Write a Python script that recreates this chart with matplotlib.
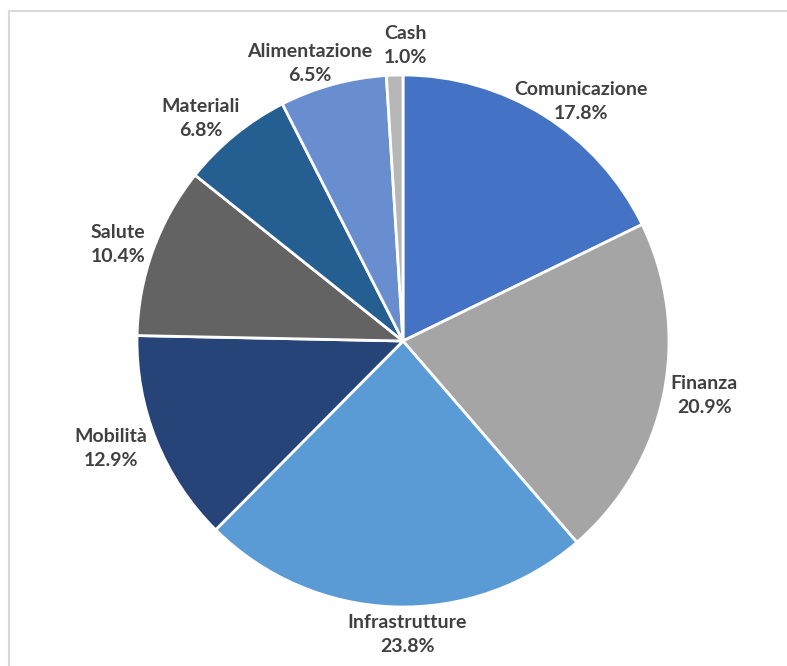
import numpy as np
import matplotlib
matplotlib.use('Agg')
import matplotlib.pyplot as plt
from matplotlib.lines import Line2D

# sector weights (percent)
sectors = ["Comunicazione", "Finanza", "Infrastrutture", "Mobilità",
           "Salute", "Materiali", "Alimentazione", "Cash"]
weights = [17.8, 20.9, 23.8, 12.9, 10.4, 6.8, 6.5, 1.0]
colors = ["#4472C4", "#A5A5A5", "#5B9BD5", "#264478",
          "#636363", "#255E91", "#698ED0", "#B7B7B7"]
# label placement: distance in pie radii and angular nudge (deg) from wedge middle
label_dist = [1.12, 1.15, 1.105, 1.17, 1.13, 1.13, 1.10, 1.11]
label_nudge = [-4.6, 1.4, 2.8, -1.8, 1.2, 3.1, 3.3, -2.2]

plt.rcParams['font.family'] = ['Lato', 'DejaVu Sans']

fig = plt.figure(figsize=(7.87, 6.66), dpi=100)
W, H = 787, 666
cx, cy, r = 403, 341, 266
ax = fig.add_axes([(cx - r) / W, 1 - (cy + r) / H, 2 * r / W, 2 * r / H])

wedges, _ = ax.pie(weights, colors=colors, startangle=90, counterclock=False,
                   wedgeprops=dict(edgecolor='white', linewidth=2))
ax.set_xlim(-1, 1)
ax.set_ylim(-1, 1)
ax.set_aspect('equal')

for w, name, val, d, nudge in zip(wedges, sectors, weights, label_dist, label_nudge):
    mid = np.deg2rad((w.theta1 + w.theta2) / 2 + nudge)
    x, y = d * np.cos(mid), d * np.sin(mid)
    ax.text(x, y, f"{name}\n{val:.1f}%", ha='center', va='center',
            fontsize=14, fontweight='bold', color='#404040',
            linespacing=1.5, clip_on=False)

# chart-area frame (partly outside the image)
fx, fy = 9 / W, 1 - 11 / H
fig.add_artist(Line2D([fx, fx], [0, fy], color='#d9d9d9', lw=1.5))
fig.add_artist(Line2D([fx, 1], [fy, fy], color='#d9d9d9', lw=1.5))

fig.savefig("out.png", dpi=100)
